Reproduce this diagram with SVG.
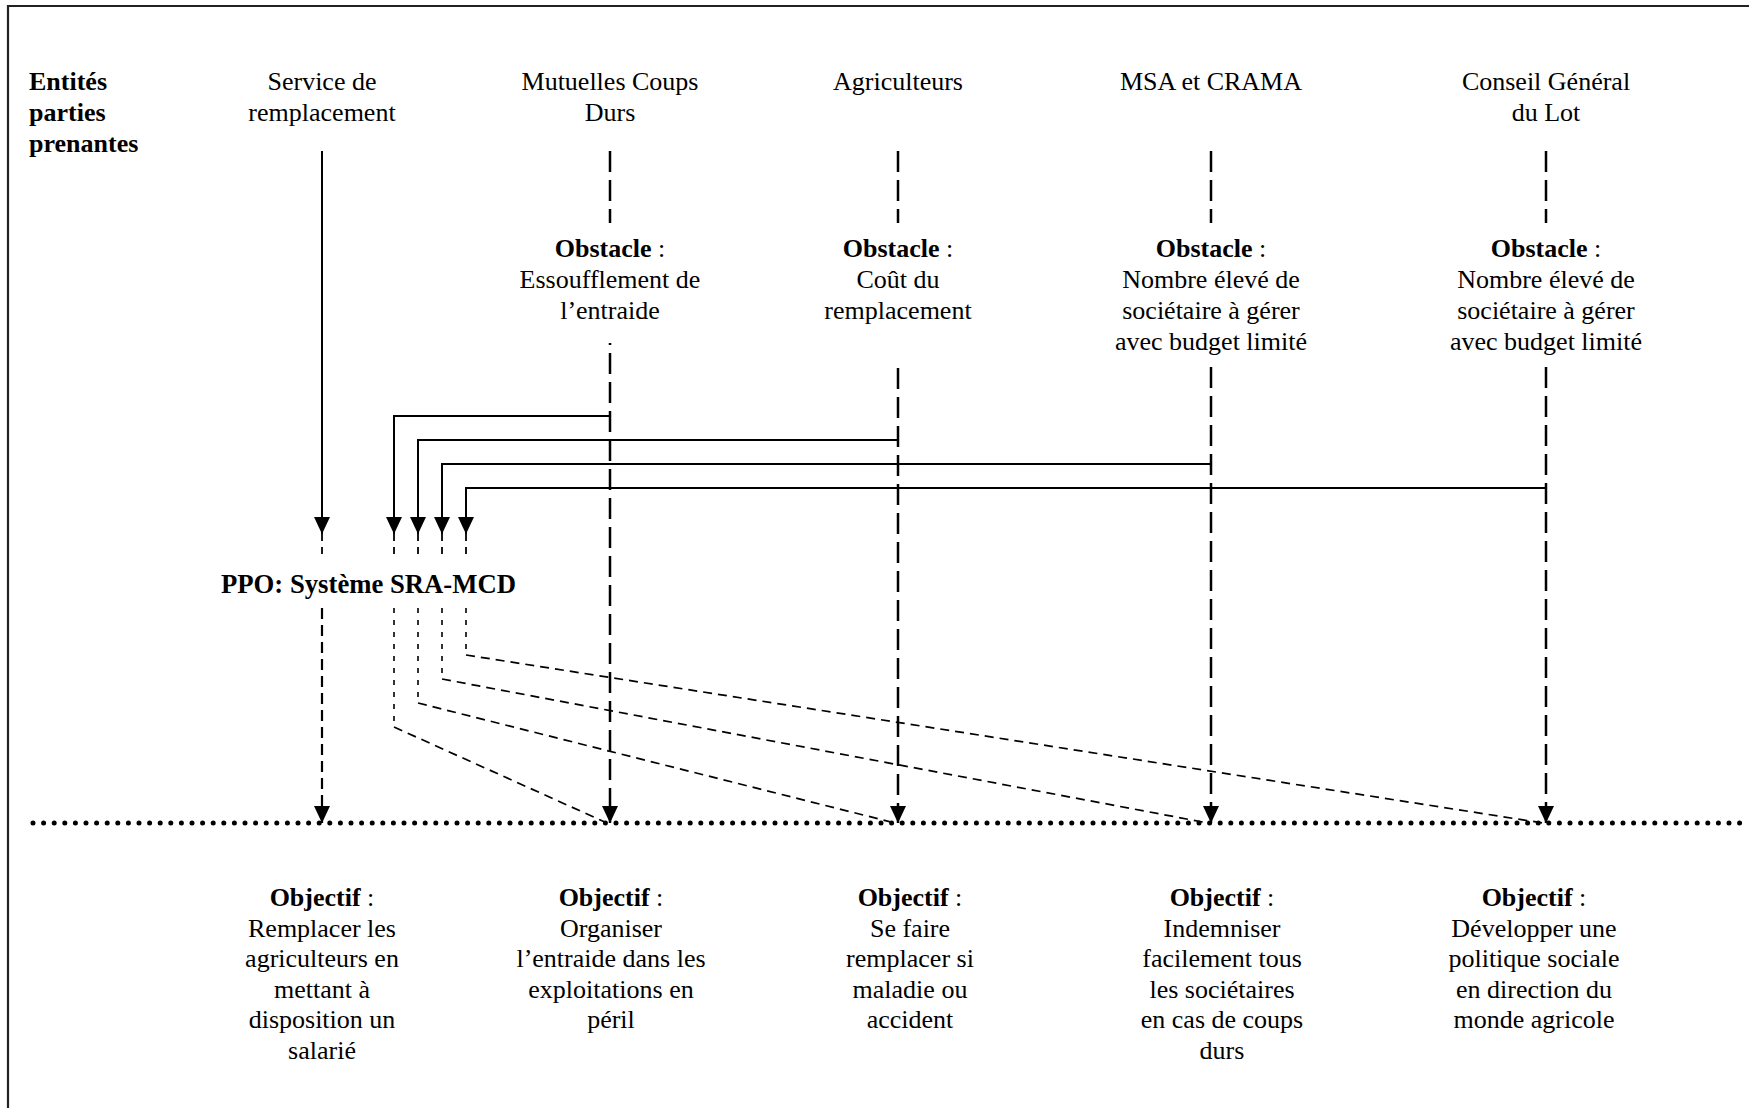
<svg xmlns="http://www.w3.org/2000/svg" width="1749" height="1108" viewBox="0 0 1749 1108">
<style>
.t{font-family:"Liberation Serif","Times New Roman",serif;font-size:26px;fill:#000}
.b{font-weight:bold}
.c{text-anchor:middle}
.solid{stroke:#000;stroke-width:2;fill:none}
.long{stroke:#000;stroke-width:2.5;stroke-dasharray:21 8;fill:none}
.short{stroke:#000;stroke-width:1.8;stroke-dasharray:7 6;fill:none}
.thin{stroke:#000;stroke-width:1.6;stroke-dasharray:5 7;fill:none}
.diag{stroke:#000;stroke-width:1.7;stroke-dasharray:9 6;fill:none}
.svc{stroke:#000;stroke-width:2.2;stroke-dasharray:11 6;fill:none}
</style>
<defs>
<marker id="arr" viewBox="0 0 17 16" refX="17" refY="8" markerWidth="17" markerHeight="16" markerUnits="userSpaceOnUse" orient="auto">
<path d="M0,0 L17,8 L0,16 z" fill="#000"/>
</marker>
</defs>
<rect x="0" y="0" width="1749" height="1108" fill="#fff"/>
<g id="frame">
<line x1="7" y1="6" x2="1749" y2="6" stroke="#222" stroke-width="2.2"/>
<line x1="8" y1="5" x2="8" y2="1108" stroke="#222" stroke-width="2.2"/>
</g>
<g id="axis">
<line x1="33" y1="823" x2="1749" y2="823" stroke="#000" stroke-width="5" stroke-linecap="round" stroke-dasharray="0 10.6"/>
</g>
<g id="connectors">
<line class="solid" x1="322" y1="151" x2="322" y2="534" stroke-width="2.5" marker-end="url(#arr)"/>
<line class="long" x1="610" y1="151" x2="610" y2="223"/>
<line class="long" x1="898" y1="151" x2="898" y2="223"/>
<line class="long" x1="1211" y1="151" x2="1211" y2="223"/>
<line class="long" x1="1546" y1="151" x2="1546" y2="223"/>
<line class="long" x1="610" y1="343" x2="610" y2="823" stroke-dashoffset="19" marker-end="url(#arr)"/>
<line class="long" x1="898" y1="368" x2="898" y2="823" marker-end="url(#arr)"/>
<line class="long" x1="1211" y1="367" x2="1211" y2="823" marker-end="url(#arr)"/>
<line class="long" x1="1546" y1="367" x2="1546" y2="823" marker-end="url(#arr)"/>
<path class="solid" d="M610,416 H394 V534" marker-end="url(#arr)"/>
<path class="solid" d="M898,440 H418 V534" marker-end="url(#arr)"/>
<path class="solid" d="M1211,464 H442 V534" marker-end="url(#arr)"/>
<path class="solid" d="M1546,488 H466 V534" marker-end="url(#arr)"/>
<line class="short" x1="322" y1="534" x2="322" y2="558"/>
<line class="short" x1="394" y1="534" x2="394" y2="558"/>
<line class="short" x1="418" y1="534" x2="418" y2="558"/>
<line class="short" x1="442" y1="534" x2="442" y2="558"/>
<line class="short" x1="466" y1="534" x2="466" y2="558"/>
<line class="svc" x1="322" y1="608" x2="322" y2="823" marker-end="url(#arr)"/>
<line class="thin" x1="394" y1="608" x2="394" y2="727"/>
<line class="thin" x1="418" y1="608" x2="418" y2="703"/>
<line class="thin" x1="442" y1="608" x2="442" y2="679"/>
<line class="thin" x1="466" y1="608" x2="466" y2="655"/>
<line class="diag" x1="394" y1="727" x2="607" y2="823"/>
<line class="diag" x1="418" y1="703" x2="895" y2="823"/>
<line class="diag" x1="442" y1="679" x2="1208" y2="823"/>
<line class="diag" x1="466" y1="655" x2="1543" y2="823"/>
</g>
<g id="entities-label">
<text class="t b" x="29" y="90">Entités</text>
<text class="t b" x="29" y="121">parties</text>
<text class="t b" x="29" y="152">prenantes</text>
</g>
<g id="service">
<text class="t c" x="322" y="90">Service de</text>
<text class="t c" x="322" y="121">remplacement</text>
</g>
<g id="mutuelles">
<text class="t c" x="610" y="90">Mutuelles Coups</text>
<text class="t c" x="610" y="121">Durs</text>
</g>
<g id="agriculteurs">
<text class="t c" x="898" y="90">Agriculteurs</text>
</g>
<g id="msa">
<text class="t c" x="1211" y="90">MSA et CRAMA</text>
</g>
<g id="conseil">
<text class="t c" x="1546" y="90">Conseil Général</text>
<text class="t c" x="1546" y="121">du Lot</text>
</g>
<g id="obstacle-mutuelles">
<text class="t c" x="610" y="257"><tspan class="b">Obstacle</tspan> :</text>
<text class="t c" x="610" y="288">Essoufflement de</text>
<text class="t c" x="610" y="319">l’entraide</text>
</g>
<g id="obstacle-agriculteurs">
<text class="t c" x="898" y="257"><tspan class="b">Obstacle</tspan> :</text>
<text class="t c" x="898" y="288">Coût du</text>
<text class="t c" x="898" y="319">remplacement</text>
</g>
<g id="obstacle-msa">
<text class="t c" x="1211" y="257"><tspan class="b">Obstacle</tspan> :</text>
<text class="t c" x="1211" y="288">Nombre élevé de</text>
<text class="t c" x="1211" y="319">sociétaire à gérer</text>
<text class="t c" x="1211" y="350">avec budget limité</text>
</g>
<g id="obstacle-conseil">
<text class="t c" x="1546" y="257"><tspan class="b">Obstacle</tspan> :</text>
<text class="t c" x="1546" y="288">Nombre élevé de</text>
<text class="t c" x="1546" y="319">sociétaire à gérer</text>
<text class="t c" x="1546" y="350">avec budget limité</text>
</g>
<g id="ppo">
<text class="t b" x="221" y="593" style="font-size:26.7px">PPO: Système SRA-MCD</text>
</g>
<g id="objectif-service">
<text class="t c" x="322" y="906"><tspan class="b">Objectif</tspan> :</text>
<text class="t c" x="322" y="937">Remplacer les</text>
<text class="t c" x="322" y="967">agriculteurs en</text>
<text class="t c" x="322" y="998">mettant à</text>
<text class="t c" x="322" y="1028">disposition un</text>
<text class="t c" x="322" y="1059">salarié</text>
</g>
<g id="objectif-mutuelles">
<text class="t c" x="611" y="906"><tspan class="b">Objectif</tspan> :</text>
<text class="t c" x="611" y="937">Organiser</text>
<text class="t c" x="611" y="967">l’entraide dans les</text>
<text class="t c" x="611" y="998">exploitations en</text>
<text class="t c" x="611" y="1028">péril</text>
</g>
<g id="objectif-agriculteurs">
<text class="t c" x="910" y="906"><tspan class="b">Objectif</tspan> :</text>
<text class="t c" x="910" y="937">Se faire</text>
<text class="t c" x="910" y="967">remplacer si</text>
<text class="t c" x="910" y="998">maladie ou</text>
<text class="t c" x="910" y="1028">accident</text>
</g>
<g id="objectif-msa">
<text class="t c" x="1222" y="906"><tspan class="b">Objectif</tspan> :</text>
<text class="t c" x="1222" y="937">Indemniser</text>
<text class="t c" x="1222" y="967">facilement tous</text>
<text class="t c" x="1222" y="998">les sociétaires</text>
<text class="t c" x="1222" y="1028">en cas de coups</text>
<text class="t c" x="1222" y="1059">durs</text>
</g>
<g id="objectif-conseil">
<text class="t c" x="1534" y="906"><tspan class="b">Objectif</tspan> :</text>
<text class="t c" x="1534" y="937">Développer une</text>
<text class="t c" x="1534" y="967">politique sociale</text>
<text class="t c" x="1534" y="998">en direction du</text>
<text class="t c" x="1534" y="1028">monde agricole</text>
</g>
</svg>
